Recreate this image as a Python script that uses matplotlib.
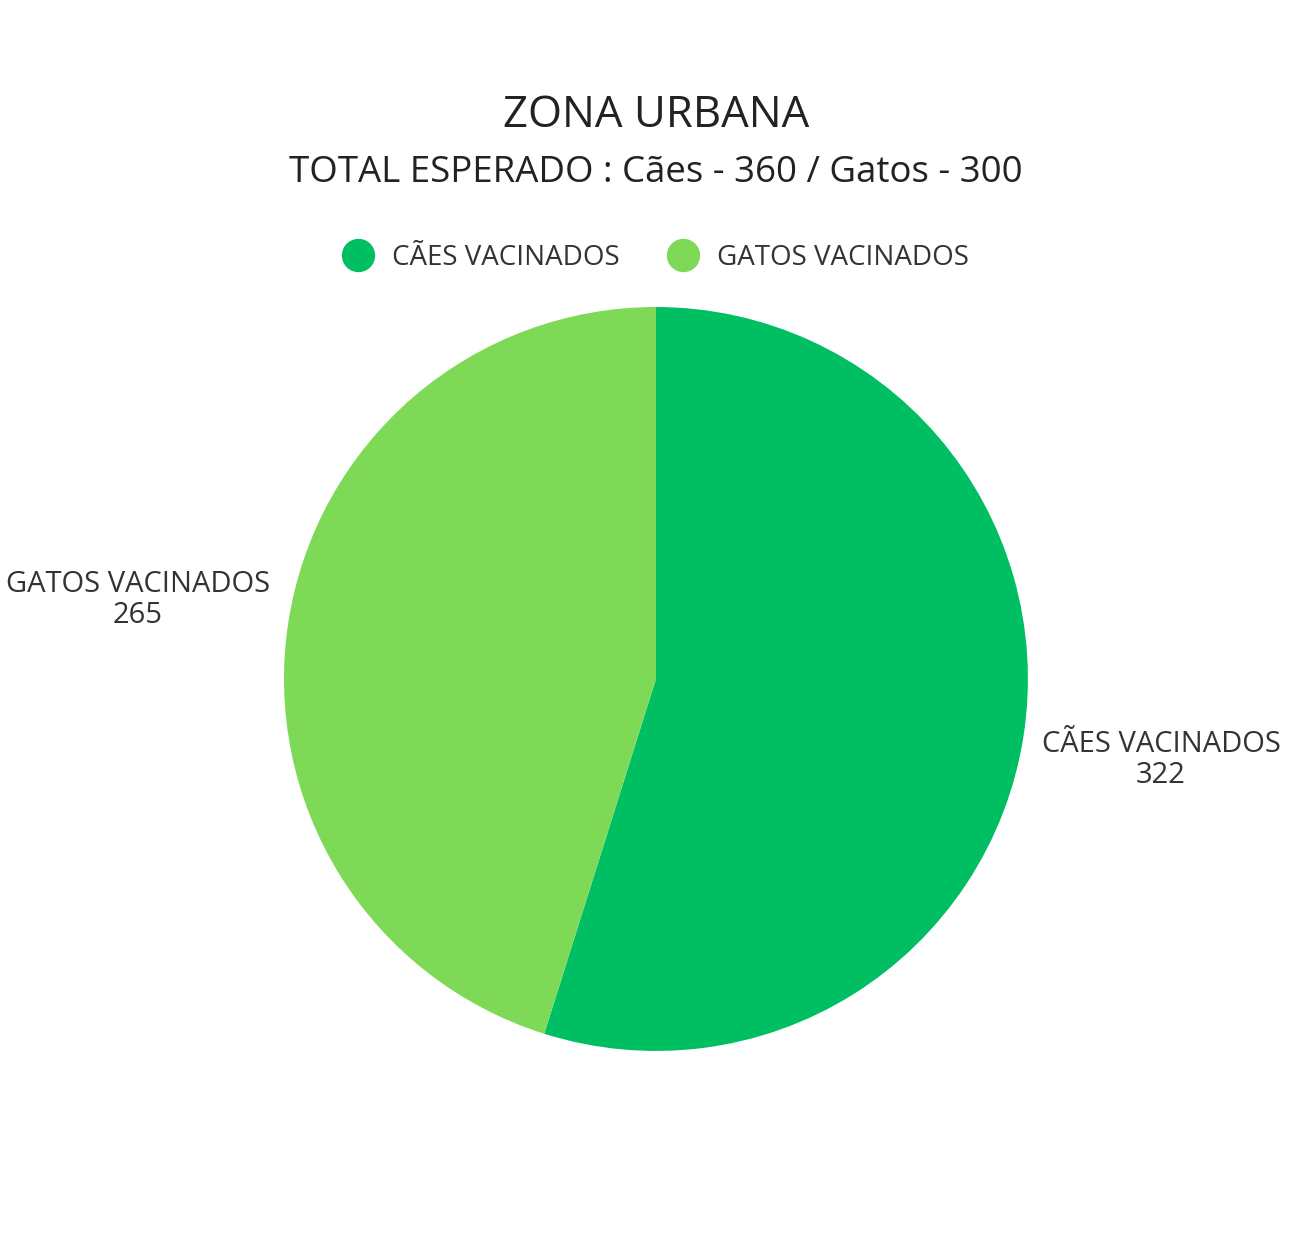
import matplotlib.pyplot as plt
from matplotlib.lines import Line2D

plt.rcParams['font.family'] = ['Open Sans', 'DejaVu Sans']

labels = ["CÃES VACINADOS", "GATOS VACINADOS"]
values = [322, 265]
colors = ["#00BF63", "#7ED957"]
title = "ZONA URBANA"
subtitle = "TOTAL ESPERADO : Cães - 360 / Gatos - 300"

fig = plt.figure(figsize=(12.9, 12.59), dpi=100)
fig.patch.set_facecolor("white")

ax = fig.add_axes([0.5085 - 0.5767 / 2, 0.4607 - 0.591 / 2, 0.5767, 0.591])
wedges, _ = ax.pie(values, colors=colors, startangle=90, counterclock=False,
                   radius=1.0)
ax.set_xlim(-1, 1)
ax.set_ylim(-1, 1)
ax.set_aspect("equal")

# outside labels (name + value)
label_pos = [(1161 / 1290, 1 - 760 / 1259), (138 / 1290, 1 - 600 / 1259)]
for (x, y), lab, v in zip(label_pos, labels, values):
    fig.text(x, y, f"{lab}\n{v}", ha="center", va="center", fontsize=21,
             color="#333333", linespacing=1.1)

fig.text(0.5085, 1 - 116 / 1259, title, ha="center", va="center",
         fontsize=31.5, color="#222222")
fig.text(0.5085, 1 - 173 / 1259, subtitle, ha="center", va="center",
         fontsize=26.4, color="#222222")

handles = [Line2D([0], [0], marker="o", linestyle="", markersize=23,
                  markerfacecolor=c, markeredgecolor=c) for c in colors]
fig.legend(handles, labels, loc="center", bbox_to_anchor=(0.5035, 1 - 258 / 1259),
           ncol=2, frameon=False, fontsize=20, handletextpad=0.2,
           columnspacing=1.3, labelcolor="#333333")

fig.savefig("out.png", dpi=100, facecolor="white")
